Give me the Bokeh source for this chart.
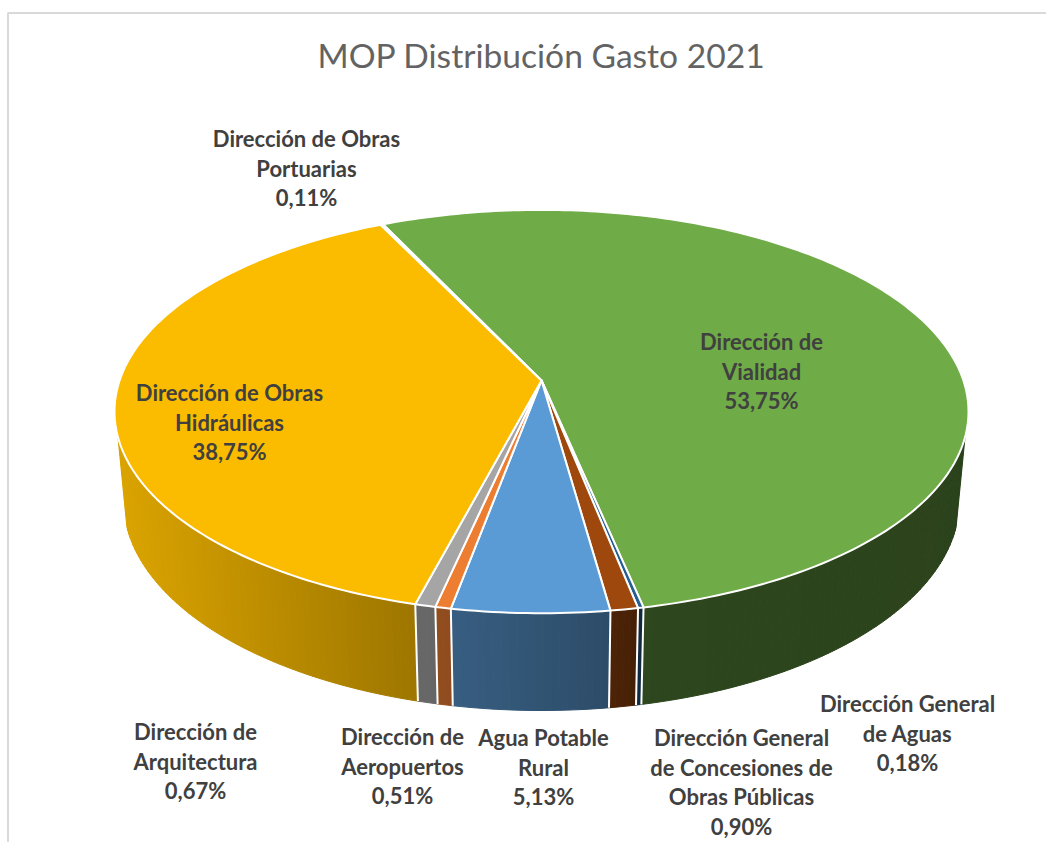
import numpy as np
from bokeh.plotting import figure
from bokeh.models import ColumnDataSource
from bokeh.core.properties import value
from bokeh.embed import file_html
from bokeh.resources import INLINE

TITLE = "MOP Distribución Gasto 2021"
names = [
    ["Dirección de", "Vialidad"],
    ["Dirección General", "de Aguas"],
    ["Dirección General", "de Concesiones de", "Obras Públicas"],
    ["Agua Potable", "Rural"],
    ["Dirección de", "Aeropuertos"],
    ["Dirección de", "Arquitectura"],
    ["Dirección de Obras", "Hidráulicas"],
    ["Dirección de Obras", "Portuarias"],
]
shares = [53.75, 0.18, 0.90, 5.13, 0.51, 0.67, 38.75, 0.11]
colors = ["#6FAB47", "#255E91", "#9E480E", "#5B9BD5", "#ED7D31", "#A5A5A5", "#FBBC00", "#4472C4"]
label_cx = [761, 907, 741, 543, 402, 195, 229, 306]
label_y0 = [341, 703, 737, 737, 736, 731, 392, 138]
LINE_H = 29.5

START = -25.35
CX = 541
C = 0.154
TOP = dict(A=421.9, B=196.9, ay=380.0)
BOT = dict(A=413.0, B=205.0, ay=467.7)
SIDE_MIN, SIDE_MAX = 106.0, 254.0
shade_x = [120, 415, 610, 650, 968]
shade_f = [0.87, 0.63, 0.49, 0.41, 0.39]


def project(theta, g):
    t = np.radians(theta)
    u, v = np.sin(t), np.cos(t)
    w = 1 + C * v
    return CX + g["A"] * u / w, g["ay"] - g["B"] * v / w


def shade(color, x):
    f = float(np.interp(x, shade_x, shade_f))
    rgb = [int(color[i:i + 2], 16) for i in (1, 3, 5)]
    return "#%02x%02x%02x" % tuple(int(round(c * f)) for c in rgb)


edges = START + np.concatenate([[0], np.cumsum(shares)]) * 3.6

p = figure(width=1046, height=842, x_range=(0, 1046), y_range=(842, 0),
           x_axis_type=None, y_axis_type=None, toolbar_location=None,
           output_backend="svg", min_border=0, outline_line_color=None,
           background_fill_color="white", border_fill_color="white")
p.grid.visible = False

# chart frame
p.line([7.5, 7.5, 1046], [842, 12.5, 12.5], line_color="#D9D9D9", line_width=2)

# side wall strips
xs, ys, cs = [], [], []
for i, col in enumerate(colors):
    a, b = max(edges[i], SIDE_MIN), min(edges[i + 1], SIDE_MAX)
    if b <= a:
        continue
    n = max(1, int(np.ceil((b - a) / 1.0)))
    th = np.linspace(a, b, n + 1)
    for t0, t1 in zip(th[:-1], th[1:]):
        x0, y0 = project(t0, TOP); x1, y1 = project(t1, TOP)
        x2, y2 = project(t1, BOT); x3, y3 = project(t0, BOT)
        xs.append([x0, x1, x2, x3]); ys.append([y0, y1, y2, y3])
        cs.append(shade(col, (x0 + x1 + x2 + x3) / 4))
p.patches("xs", "ys", source=ColumnDataSource(dict(xs=xs, ys=ys, c=cs)),
          fill_color="c", line_color="c", line_width=1)

# side wall separators
for e in edges:
    if SIDE_MIN < e < SIDE_MAX:
        x0, y0 = project(e, TOP); x1, y1 = project(e, BOT)
        p.line([x0, x1], [y0, y1], line_color="white", line_width=2)

# top face
xs, ys = [], []
for i in range(len(shares)):
    th = np.linspace(edges[i], edges[i + 1], max(3, int(shares[i] * 3.6) + 2))
    ex, ey = project(th, TOP)
    xs.append([CX] + list(ex)); ys.append([TOP["ay"]] + list(ey))
p.patches("xs", "ys", source=ColumnDataSource(dict(xs=xs, ys=ys, c=colors)),
          fill_color="c", line_color="white", line_width=2, line_join="round")

# title and labels
p.text([541], [54.5], text=[TITLE], text_font=value("Lato"), text_font_size="33.6px",
       text_color="#636363", text_align="center", text_baseline="middle")

lx, ly, lt = [], [], []
for nm, v, cx, y0 in zip(names, shares, label_cx, label_y0):
    rows = nm + [f"{v:.2f}%".replace(".", ",")]
    for k, r in enumerate(rows):
        lx.append(cx); ly.append(y0 + k * LINE_H); lt.append(r)
p.text("x", "y", text="t", source=ColumnDataSource(dict(x=lx, y=ly, t=lt)),
       text_font=value("Lato"), text_font_style="bold", text_font_size="22px",
       text_color="#404040", text_align="center", text_baseline="middle")

open("out.html", "w").write(file_html(p, INLINE))
